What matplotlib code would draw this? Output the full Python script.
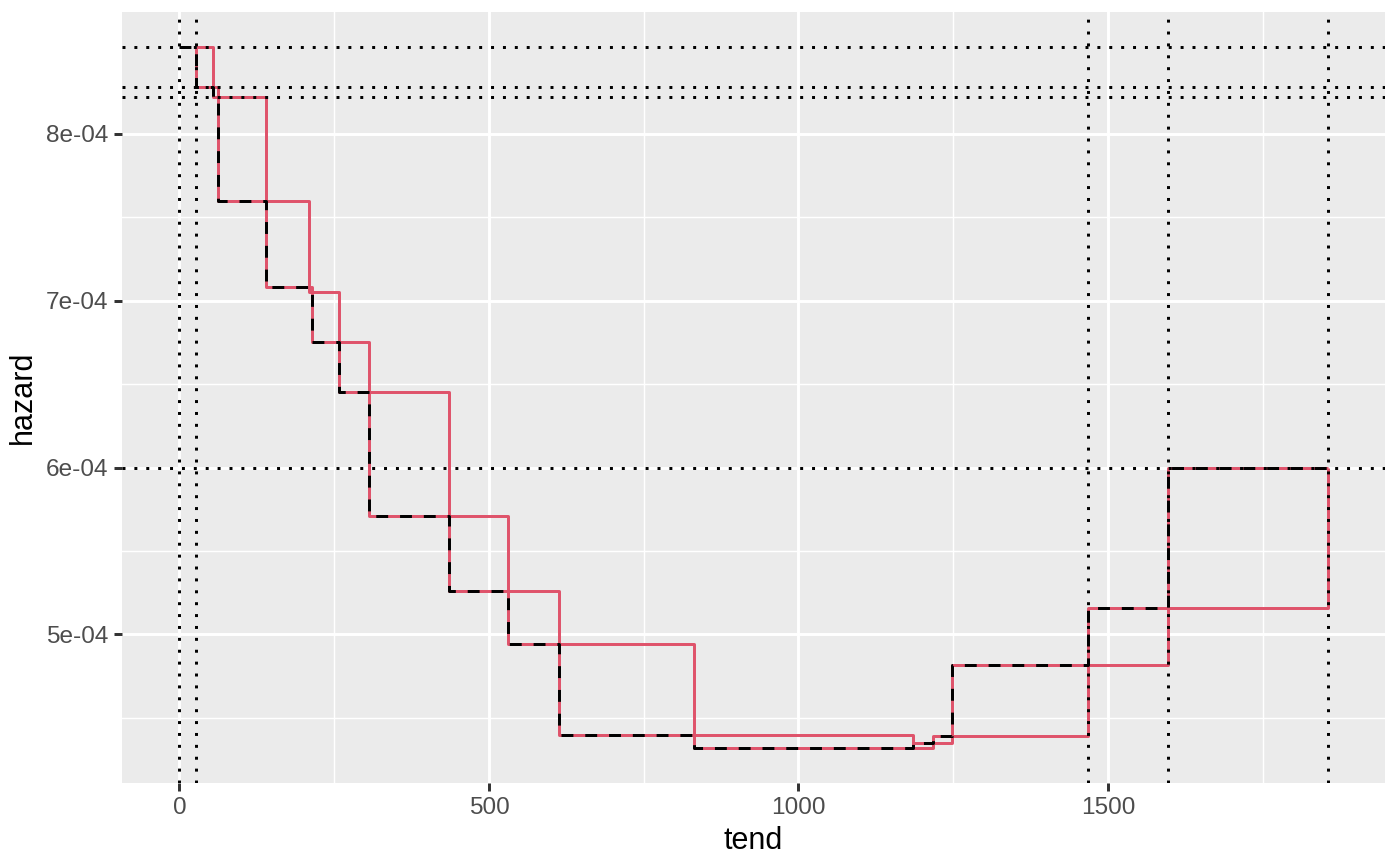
import matplotlib
matplotlib.use("Agg")
import matplotlib.pyplot as plt
from matplotlib.ticker import FixedLocator, FixedFormatter

plt.rcParams['font.family'] = ['Liberation Sans', 'DejaVu Sans']

# ---- data ----
tend = [27, 55, 63, 140, 210, 214, 258, 306, 435, 531, 614, 832, 1185, 1218, 1248, 1468, 1597, 1855]
hazard = [8.52e-4, 8.28e-4, 8.22e-4, 7.60e-4, 7.08e-4, 7.05e-4, 6.75e-4, 6.45e-4, 5.71e-4,
          5.26e-4, 4.94e-4, 4.40e-4, 4.32e-4, 4.35e-4, 4.39e-4, 4.82e-4, 5.16e-4, 6.00e-4]
tstart0 = 0
vref = [0, 27, 1468, 1597, 1855]
href = [8.52e-4, 8.28e-4, 8.22e-4, 6.00e-4]
xticks = [0, 500, 1000, 1500]
xminor = [250, 750, 1250, 1750]
yticks = [5e-4, 6e-4, 7e-4, 8e-4]
yminor = [4.5e-4, 5.5e-4, 6.5e-4, 7.5e-4]
ytick_labels = ["5e-04", "6e-04", "7e-04", "8e-04"]

RED = "#DF536B"
LW = 1.07

fig = plt.figure(figsize=(7, 4.33), dpi=200)
ax = fig.add_axes([122/1400, (866-783)/866, (1385-122)/1400, (783-12)/866])
ax.set_facecolor("#EBEBEB")
for s in ax.spines.values():
    s.set_visible(False)

# red step lines
ax.plot(tend, hazard, drawstyle="steps-post", color=RED, lw=LW,
        solid_capstyle="butt", solid_joinstyle="round", zorder=3)
ax.plot(tend, hazard, drawstyle="steps-pre", color=RED, lw=LW,
        solid_capstyle="butt", solid_joinstyle="round", zorder=3)
# black dashed
ax.plot([tstart0] + tend, [hazard[0]] + hazard, drawstyle="steps-pre", color="black",
        lw=LW, linestyle=(0, (4, 4)), dash_capstyle="butt", zorder=4)

# dotted reference lines
for v in vref:
    ax.axvline(v, color="black", lw=LW, linestyle=(0, (1, 3)), dash_capstyle="butt", zorder=5)
for h in href:
    ax.axhline(h, color="black", lw=LW, linestyle=(0, (1, 3)), dash_capstyle="butt", zorder=5)

ax.margins(x=0.05, y=0.05)
ax.autoscale_view()

ax.xaxis.set_major_locator(FixedLocator(xticks))
ax.xaxis.set_major_formatter(FixedFormatter([str(t) for t in xticks]))
ax.xaxis.set_minor_locator(FixedLocator(xminor))
ax.yaxis.set_major_locator(FixedLocator(yticks))
ax.yaxis.set_major_formatter(FixedFormatter(ytick_labels))
ax.yaxis.set_minor_locator(FixedLocator(yminor))

ax.grid(which="major", color="white", lw=1.07, zorder=0)
ax.grid(which="minor", color="white", lw=0.53, zorder=0)
ax.set_axisbelow(True)

ax.tick_params(which="major", length=2.75, width=1.07, color="#333333",
               labelcolor="#4D4D4D", labelsize=8.8, pad=2.2)
ax.tick_params(which="minor", length=0)

ax.set_xlabel("tend", fontsize=11, color="black", labelpad=2.75)
ax.set_ylabel("hazard", fontsize=11, color="black", labelpad=2.75)

fig.savefig("out.png", dpi=200)
